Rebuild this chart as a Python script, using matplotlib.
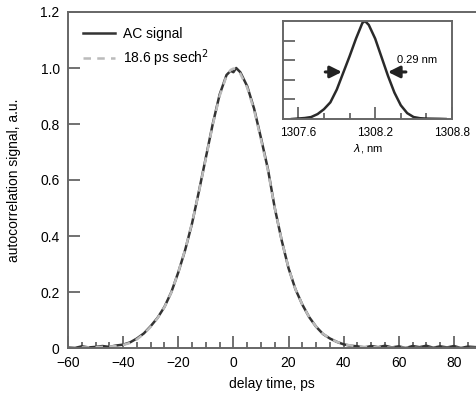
import numpy as np
import matplotlib
matplotlib.use("Agg")
from matplotlib import pyplot as plt
from matplotlib.ticker import MultipleLocator, FixedLocator

plt.rcParams['font.family'] = ['Liberation Sans', 'DejaVu Sans']

# autocorrelation trace (delay in ps, signal in a.u.)
delay = [-60, -57.5, -55, -52.5, -50, -47.5, -45, -42.5, -40, -37.5, -35, -32.5,
         -30, -27.5, -25, -22.5, -20, -17.5, -15, -12.5, -10, -7.5, -5, -2.5,
         -1, 0, 1, 2.5, 5, 7.5, 10, 12.5, 15, 17.5, 20, 22.5, 25, 27.5, 30,
         32.5, 35, 37.5, 40, 42.5, 45, 47.5, 50, 52.5, 55, 57.5, 60, 62.5, 65,
         67.5, 70, 72.5, 75, 77.5, 80, 82.5, 85, 88]
ac_signal = [0.003, 0.0, 0.006, 0.002, 0.004, 0.007, 0.004, 0.009, 0.012, 0.02, 0.034, 0.052,
             0.078, 0.108, 0.147, 0.2, 0.27, 0.35, 0.445, 0.56, 0.68, 0.8, 0.905, 0.975,
             0.99, 0.985, 1.0, 0.985, 0.935, 0.855, 0.75, 0.64, 0.5, 0.385, 0.285, 0.21, 0.155, 0.11, 0.076,
             0.05, 0.034, 0.022, 0.013, 0.008, 0.006, 0.002, 0.007, 0.003, 0.008, 0.002, 0.006, 0.0, 0.007,
             0.003, 0.008, 0.001, 0.006, 0.002, 0.007, 0.0, 0.005, 0.003]
sech_fit = [0.001, 0.001, 0.002, 0.002, 0.003, 0.004, 0.005, 0.007, 0.011, 0.018, 0.031, 0.05,
            0.076, 0.107, 0.146, 0.199, 0.27, 0.352, 0.447, 0.558, 0.677, 0.797, 0.9, 0.972,
            0.993, 0.998, 0.996, 0.98, 0.93, 0.85, 0.745, 0.635, 0.5, 0.385, 0.285, 0.21, 0.155, 0.11, 0.076,
            0.051, 0.034, 0.022, 0.014, 0.009, 0.006, 0.004, 0.003, 0.002, 0.002, 0.001, 0.001, 0.001, 0.001,
            0.0, 0.0, 0.0, 0.0, 0.0, 0.0, 0.0, 0.0, 0.0]

# optical spectrum in the inset (wavelength in nm, normalised)
wavelength = [1307.55, 1307.60, 1307.65, 1307.70, 1307.75, 1307.80, 1307.85, 1307.90,
              1307.95, 1308.00, 1308.05, 1308.10, 1308.12, 1308.15, 1308.20, 1308.25,
              1308.30, 1308.35, 1308.40, 1308.45, 1308.50, 1308.55, 1308.60, 1308.65,
              1308.70, 1308.75]
spectrum = [0.0, 0.005, 0.01, 0.02, 0.05, 0.1, 0.17, 0.3,
            0.47, 0.64, 0.82, 0.98, 1.0, 0.96, 0.82, 0.63,
            0.44, 0.27, 0.14, 0.06, 0.02, 0.008, 0.004, 0.003,
            0.002, 0.0]

spine_col = '#666666'

fig = plt.figure(figsize=(4.76, 3.98), dpi=100)
ax = fig.add_axes([68 / 476, 50 / 398, 1 - 68 / 476, 336 / 398])

ax.plot(delay, ac_signal, color='#333333', lw=1.8, label='AC signal')
ax.plot(delay, sech_fit, color='#bbbbbb', lw=1.8, ls=(0, (3, 2.5)), label='18.6 ps sech$^2$')

ax.set_xlim(-60, 88)
ax.set_ylim(0, 1.2)
ax.xaxis.set_major_locator(MultipleLocator(20))
ax.xaxis.set_minor_locator(MultipleLocator(5))
ax.set_yticks(np.arange(0, 1.21, 0.2))
ax.set_yticklabels(['0', '0.2', '0.4', '0.6', '0.8', '1.0', '1.2'])

ax.tick_params(axis='both', which='major', direction='in', length=8.5, width=1.3,
               color=spine_col, labelsize=10, pad=6)
ax.tick_params(axis='x', which='minor', direction='in', length=4.3, width=1.3, color=spine_col)
ax.tick_params(axis='y', which='major', pad=6)
ax.spines['right'].set_visible(False)
for s in ['left', 'top', 'bottom']:
    ax.spines[s].set_color(spine_col)
    ax.spines[s].set_linewidth(1.4)

ax.set_xlabel('delay time, ps', fontsize=10, labelpad=5)
ax.set_ylabel('autocorrelation signal, a.u.', fontsize=10, labelpad=14)

ax.legend(loc='upper left', frameon=False, fontsize=10, handlelength=2.35,
          handletextpad=0.55, borderaxespad=0.3, labelspacing=0.45,
          bbox_to_anchor=(0.012, 0.985))

# inset with the spectrum
ins = fig.add_axes([283 / 476, 279 / 398, 169 / 476, 98 / 398])
ins.plot(wavelength, spectrum, color='#2a2a2a', lw=1.8)
ins.set_xlim(1307.48, 1308.8)
ins.set_ylim(0, 1.0)
ins.xaxis.set_major_locator(FixedLocator([1307.6, 1308.2, 1308.8]))
ins.xaxis.set_minor_locator(FixedLocator([1307.8, 1308.0, 1308.4, 1308.6]))
ins.set_xticklabels(['1307.6', '1308.2', '1308.8'])
ins.set_yticks([0.2, 0.4, 0.6, 0.8])
ins.set_yticklabels([])
ins.tick_params(axis='both', which='major', direction='in', length=8.5, width=1.3,
                color=spine_col, labelsize=8.5, pad=6)
ins.tick_params(axis='x', which='minor', direction='in', length=4.3, width=1.3, color=spine_col)
for s in ins.spines.values():
    s.set_color(spine_col)
    s.set_linewidth(1.4)
ins.set_xlabel('$\\lambda$, nm', fontsize=8, labelpad=2)

# FWHM arrows
arr = dict(arrowstyle='-|>,head_length=0.7,head_width=0.35', color='#222222', lw=2.2,
           shrinkA=0, shrinkB=0)
ins.annotate('', xy=(1307.94, 0.48), xytext=(1307.81, 0.48), arrowprops=arr)
ins.annotate('', xy=(1308.30, 0.48), xytext=(1308.44, 0.48), arrowprops=arr)
ins.text(1308.37, 0.6, '0.29 nm', fontsize=8, va='center', ha='left')

fig.savefig('out.png', dpi=100)
